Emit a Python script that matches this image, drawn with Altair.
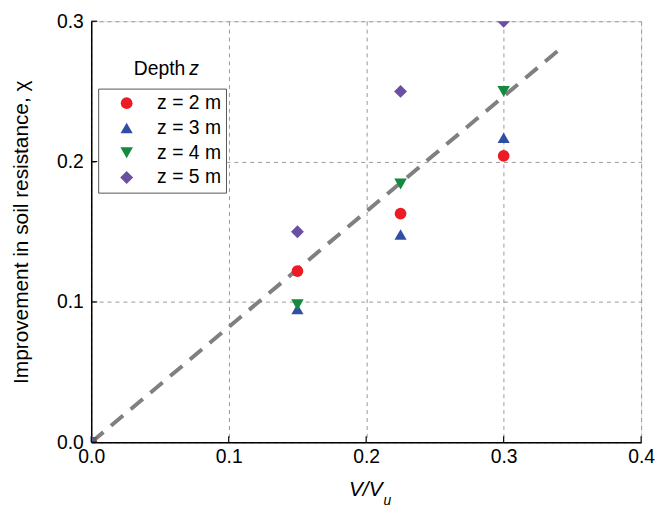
import altair as alt
import pandas as pd

series = ["z = 2 m", "z = 3 m", "z = 4 m", "z = 5 m"]
colors = ["#ED1C24", "#2E4FA3", "#138A3E", "#6B4FA3"]
shapes = ["circle", "triangle-up", "triangle-down", "diamond"]
sizes = [140, 170, 170, 230]
x_vals = [0.0, 0.15, 0.225, 0.3]
y_z2 = [0.0, 0.122, 0.163, 0.204]
y_z3 = [0.0, 0.095, 0.148, 0.217]
y_z4 = [0.0, 0.098, 0.184, 0.250]
y_z5 = [0.0, 0.150, 0.250, 0.300]
trend_x = [0.0, 0.342]
trend_y = [0.0, 0.281]
x_ticks = [0.0, 0.1, 0.2, 0.3, 0.4]
y_ticks = [0.0, 0.1, 0.2, 0.3]

rows = []
for name, ys in zip(series, [y_z2, y_z3, y_z4, y_z5]):
    for xv, yv in zip(x_vals, ys):
        rows.append({"x": xv, "y": yv, "Depth": name})
pts = pd.DataFrame(rows)
trend = pd.DataFrame({"x": trend_x, "y": trend_y})

W, H = 555, 425
FONT = "Liberation Sans"

xs = alt.Scale(domain=[0, 0.4], nice=False)
ys = alt.Scale(domain=[0, 0.3], nice=False)

xaxis = alt.Axis(values=x_ticks, format=".1f", title=None, grid=True,
                 gridDash=[4, 4], gridColor="#999999", gridWidth=1,
                 ticks=False, labelFontSize=19.5, labelPadding=5,
                 labelFlush=False,
                 labelColor="black", labelFont=FONT,
                 domainColor="black", domainWidth=1.5)
yaxis = alt.Axis(values=y_ticks, format=".1f", grid=True,
                 gridDash=[4, 4], gridColor="#999999", gridWidth=1,
                 ticks=False, labelFontSize=19.5, labelPadding=8,
                 labelFlush=False,
                 labelColor="black", labelFont=FONT,
                 domainColor="black", domainWidth=1.5,
                 title="Improvement in soil resistance, χ",
                 titleFontSize=21, titleFontWeight="normal", titleFont=FONT,
                 titleColor="black", titlePadding=25)

line = alt.Chart(trend).mark_line(color="#808080", strokeWidth=4,
                                  strokeDash=[16, 10], clip=True).encode(
    x=alt.X("x:Q", scale=xs, axis=xaxis),
    y=alt.Y("y:Q", scale=ys, axis=yaxis),
)

points = alt.Chart(pts).mark_point(filled=True, opacity=1,
                                   clip=True).encode(
    x=alt.X("x:Q", scale=xs),
    y=alt.Y("y:Q", scale=ys),
    color=alt.Color("Depth:N", scale=alt.Scale(domain=series, range=colors),
                    legend=alt.Legend(
                        title=None, orient="none", legendX=7, legendY=68,
                        strokeColor="#555555", padding=5, rowPadding=4,
                        labelFontSize=19.5, labelFont=FONT, labelColor="black",
                        symbolSize=180, symbolOpacity=1, symbolOffset=14,
                        labelOffset=21, fillColor="white")),
    shape=alt.Shape("Depth:N", scale=alt.Scale(domain=series, range=shapes)),
    size=alt.Size("Depth:N", scale=alt.Scale(domain=series, range=sizes),
                  legend=None),
)

xtick_df = pd.DataFrame({"t": x_ticks})
ytick_df = pd.DataFrame({"t": y_ticks})
xticks = alt.Chart(xtick_df).mark_rule(color="black", strokeWidth=1.2).encode(
    x=alt.X("t:Q", scale=xs), y=alt.value(H), y2=alt.value(H - 6))
yticks = alt.Chart(ytick_df).mark_rule(color="black", strokeWidth=1.2).encode(
    y=alt.Y("t:Q", scale=ys), x=alt.value(0), x2=alt.value(6))

legend_title = pd.DataFrame({"a": ["Depth"], "b": ["z"]})
lt1 = alt.Chart(legend_title).mark_text(fontSize=19.5, font=FONT, align="right",
                                        baseline="middle", color="black").encode(
    text="a:N", x=alt.value(95), y=alt.value(48))
lt2 = alt.Chart(legend_title).mark_text(fontSize=19.5, font=FONT, align="left",
                                        fontStyle="italic", baseline="middle",
                                        color="black").encode(
    text="b:N", x=alt.value(99), y=alt.value(48))

xt = pd.DataFrame({"a": ["V/V"], "b": ["u"]})
xt1 = alt.Chart(xt).mark_text(fontSize=21, font=FONT, fontStyle="italic",
                              align="right", baseline="middle",
                              color="black").encode(
    text="a:N", x=alt.value(294), y=alt.value(473))
xt2 = alt.Chart(xt).mark_text(fontSize=14, font=FONT, fontStyle="italic",
                              align="left", baseline="middle",
                              color="black").encode(
    text="b:N", x=alt.value(295), y=alt.value(484))

chart = alt.layer(line, points, xticks, yticks, lt1, lt2, xt1, xt2).properties(
    width=W, height=H,
    autosize=alt.AutoSizeParams(type="none"),
    padding={"left": 84, "top": 11, "right": 14, "bottom": 70},
).configure_view(stroke="black", strokeWidth=1.5).configure(background="white")

chart.save("out.html", embed_options={"renderer": "svg", "actions": False})
